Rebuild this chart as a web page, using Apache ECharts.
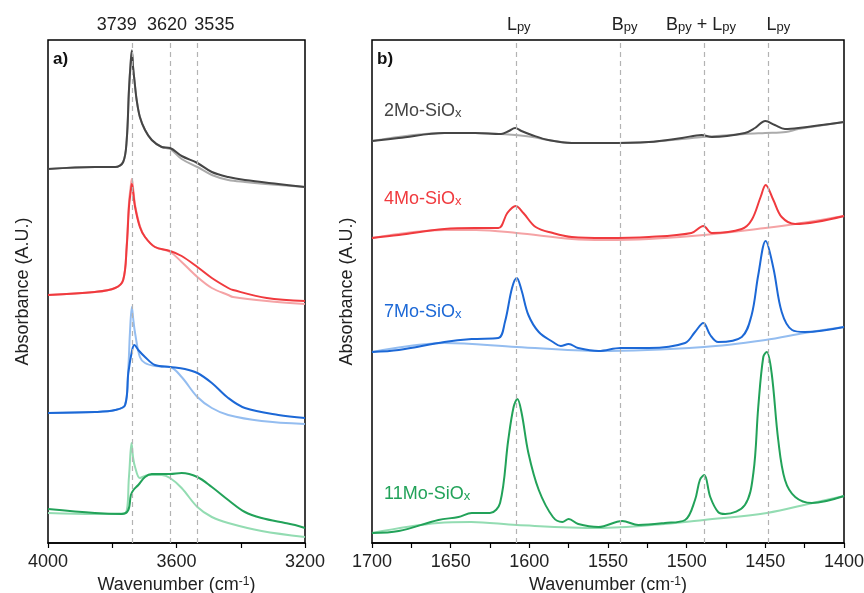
<!DOCTYPE html>
<html>
<head>
<meta charset="utf-8">
<script src="https://cdn.jsdelivr.net/npm/echarts@6/dist/echarts.min.js"></script>
<style>
  html, body { margin: 0; padding: 0; background: #fff; }
  #chart { width: 864px; height: 593px; }
</style>
</head>
<body>
<div id="chart"></div>
<script>
// a) OH region, [wavenumber, absorbance]
const oh2Mo = [[4000,3.74],[3854,3.76],[3791,3.76],[3766,3.81],[3755,4.03],[3748,4.53],[3742,4.83],[3739,4.92],[3735,4.75],[3731,4.63],[3724,4.43],[3714,4.26],[3698,4.13],[3677,4.03],[3646,3.96],[3620,3.95],[3584,3.87],[3535,3.80],[3490,3.71],[3439,3.66],[3387,3.63],[3283,3.59],[3200,3.56]]
const oh2MoRef = [[4000,3.74],[3854,3.76],[3791,3.76],[3766,3.81],[3755,4.03],[3748,4.53],[3742,4.84],[3739,4.93],[3735,4.76],[3731,4.63],[3724,4.43],[3714,4.26],[3698,4.13],[3677,4.03],[3646,3.96],[3620,3.94],[3584,3.84],[3535,3.76],[3490,3.68],[3439,3.63],[3387,3.61],[3283,3.58],[3200,3.56]]
const oh4Mo = [[4000,2.48],[3854,2.51],[3791,2.55],[3766,2.63],[3755,2.96],[3748,3.36],[3742,3.53],[3739,3.59],[3735,3.51],[3729,3.36],[3714,3.16],[3698,3.06],[3667,2.96],[3620,2.92],[3584,2.87],[3535,2.76],[3490,2.65],[3439,2.55],[3424,2.53],[3319,2.45],[3200,2.42]]
const oh4MoRef = [[4000,2.48],[3854,2.51],[3791,2.55],[3766,2.63],[3755,2.98],[3748,3.40],[3742,3.58],[3739,3.64],[3735,3.55],[3729,3.38],[3714,3.17],[3698,3.06],[3667,2.96],[3620,2.91],[3584,2.81],[3535,2.66],[3490,2.55],[3439,2.48],[3424,2.46],[3319,2.42],[3200,2.39]]
const oh7Mo = [[4000,1.30],[3854,1.31],[3791,1.33],[3760,1.38],[3750,1.70],[3738,1.93],[3731,1.98],[3719,1.93],[3698,1.86],[3667,1.78],[3620,1.76],[3574,1.74],[3535,1.70],[3490,1.60],[3439,1.45],[3387,1.35],[3283,1.28],[3200,1.25]]
const oh7MoRef = [[4000,1.30],[3854,1.31],[3791,1.33],[3760,1.38],[3750,1.75],[3745,2.10],[3739,2.36],[3735,2.25],[3729,2.10],[3714,1.86],[3698,1.80],[3667,1.77],[3620,1.76],[3584,1.66],[3535,1.46],[3490,1.35],[3439,1.28],[3335,1.22],[3200,1.19]]
const oh11Mo = [[4000,0.34],[3854,0.30],[3770,0.29],[3750,0.33],[3742,0.48],[3734,0.53],[3719,0.58],[3698,0.66],[3677,0.69],[3620,0.69],[3584,0.70],[3535,0.66],[3490,0.56],[3439,0.43],[3387,0.31],[3335,0.25],[3262,0.20],[3231,0.18],[3200,0.15]]
const oh11MoRef = [[4000,0.30],[3854,0.29],[3760,0.30],[3748,0.66],[3740,1.00],[3735,0.85],[3729,0.76],[3714,0.65],[3688,0.68],[3646,0.68],[3620,0.65],[3584,0.55],[3535,0.36],[3490,0.26],[3439,0.20],[3335,0.12],[3200,0.06]]

// b) pyridine region
const py2Mo = [[1700,4.02],[1683,4.05],[1654,4.10],[1634.5,4.10],[1618,4.09],[1613,4.12],[1609,4.15],[1605,4.12],[1598.5,4.08],[1588,4.03],[1573,4.00],[1552,4.00],[1524,4.01],[1503,4.05],[1490.5,4.08],[1484,4.06],[1463,4.10],[1456.6,4.15],[1450,4.22],[1444,4.18],[1437.5,4.14],[1429,4.15],[1400,4.21]]
const py2MoRef = [[1700,4.02],[1654,4.10],[1634,4.10],[1618,4.09],[1609,4.08],[1598,4.06],[1588,4.03],[1573,4.00],[1552,4.00],[1524,4.01],[1503,4.04],[1490,4.06],[1463,4.09],[1450,4.10],[1437,4.11],[1429,4.14],[1400,4.21]]
const py4Mo = [[1700,3.05],[1683,3.08],[1654,3.14],[1634.5,3.15],[1619.7,3.15],[1614,3.30],[1608.7,3.37],[1603.8,3.30],[1596,3.16],[1585,3.10],[1573,3.06],[1552,3.05],[1524,3.06],[1497,3.10],[1489.4,3.17],[1484,3.10],[1465,3.14],[1458.7,3.23],[1453,3.46],[1449.8,3.58],[1444.9,3.43],[1439.6,3.26],[1431,3.19],[1400,3.27]]
const py4MoRef = [[1700,3.05],[1654,3.13],[1634,3.13],[1608,3.10],[1573,3.04],[1552,3.03],[1524,3.04],[1489,3.08],[1450,3.15],[1431,3.19],[1400,3.27]]
const py7Mo = [[1700,1.91],[1683,1.93],[1654,2.01],[1636.6,2.04],[1619.7,2.05],[1615.5,2.21],[1611,2.55],[1608,2.65],[1605,2.53],[1600.6,2.28],[1594,2.11],[1585,2.01],[1580,1.97],[1575,1.99],[1569,1.95],[1556,1.92],[1542,1.95],[1524,1.95],[1501,2.00],[1494.7,2.11],[1489.4,2.20],[1485,2.08],[1480,2.01],[1465,2.06],[1458.7,2.28],[1454.5,2.68],[1449.8,3.02],[1444.9,2.75],[1439.6,2.31],[1433,2.13],[1424.8,2.11],[1400,2.16]]
const py7MoRef = [[1700,1.91],[1654,2.00],[1608,1.96],[1556,1.92],[1489,1.96],[1450,2.03],[1425,2.10],[1400,2.16]]
const py11Mo = [[1700,0.10],[1683,0.12],[1657.8,0.23],[1645,0.26],[1636.6,0.30],[1625,0.30],[1618.6,0.40],[1613.4,1.03],[1610,1.36],[1607.6,1.44],[1604.9,1.30],[1600.6,0.90],[1594,0.53],[1585,0.26],[1579,0.21],[1575,0.24],[1568.9,0.19],[1556,0.16],[1541,0.22],[1530.7,0.18],[1513.8,0.20],[1501,0.23],[1494.7,0.43],[1491.6,0.63],[1488.8,0.68],[1485,0.46],[1480,0.31],[1475.6,0.29],[1463,0.38],[1457.6,0.70],[1454.5,1.36],[1451.3,1.86],[1449.1,1.91],[1446,1.70],[1441.8,1.03],[1437.5,0.63],[1431,0.46],[1420.5,0.40],[1400,0.47]]
const py11MoRef = [[1700,0.10],[1658,0.20],[1637,0.21],[1608,0.18],[1556,0.15],[1514,0.19],[1489,0.23],[1449,0.30],[1420,0.40],[1400,0.47]]

const ohBands = [3739, 3620, 3535]
const pyBands = [1608, 1542, 1489, 1448]
const pyBandLabels = ['L{sub|py}', 'B{sub|py}', 'B{sub|py} + L{sub|py}', 'L{sub|py}']
const sampleNames = ['2Mo-SiO{sub|x}', '4Mo-SiO{sub|x}', '7Mo-SiO{sub|x}', '11Mo-SiO{sub|x}']

const colors = ['#454545', '#f03a3e', '#1c68d6', '#22a259']
const lightColors = ['#ababab', '#f5a3a5', '#94bdf0', '#93dcb2']

const FONT = '"Liberation Sans", Arial, sans-serif'
const subRich = {
  sub: { fontSize: 13, fontFamily: FONT, verticalAlign: 'bottom', lineHeight: 2 },
}

const chart = echarts.init(document.getElementById('chart'))

function line(data, color, gridIndex, extra) {
  return Object.assign({
    type: 'line',
    data: data,
    xAxisIndex: gridIndex,
    yAxisIndex: gridIndex,
    showSymbol: false,
    smooth: 0.35,
    lineStyle: { color: color, width: 2 },
    silent: true,
  }, extra || {})
}

// labels above the dashed lines are nudged sideways a little, as in the figure
function shiftPad(s) {
  return s >= 0 ? [0, 0, 0, 2 * s] : [0, -2 * s, 0, 0]
}

function bandLines(values, labels, shifts) {
  return {
    symbol: 'none',
    silent: true,
    lineStyle: { type: [5, 4], color: '#b3b3b3', width: 1.2 },
    label: {
      position: 'end',
      distance: 6,
      fontSize: 18,
      fontFamily: FONT,
      color: '#222',
      rich: subRich,
    },
    data: values.map((v, i) => ({ xAxis: v, label: { formatter: labels[i], padding: shiftPad(shifts[i]) } })),
  }
}

function xAxis(gridIndex, min, max, interval, every) {
  return {
    type: 'value',
    gridIndex: gridIndex,
    min: min,
    max: max,
    interval: interval,
    inverse: true,
    name: 'Wavenumber (cm{sup|-1})',
    nameLocation: 'middle',
    nameGap: 32,
    nameTextStyle: {
      fontSize: 18,
      fontFamily: FONT,
      color: '#222',
      rich: { sup: { fontSize: 12, fontFamily: FONT, verticalAlign: 'top', lineHeight: 4 } },
    },
    axisLine: { lineStyle: { color: '#000', width: 1.5 } },
    axisTick: { inside: false, length: 5, lineStyle: { color: '#000', width: 1.2 } },
    axisLabel: {
      fontSize: 18,
      fontFamily: FONT,
      color: '#222',
      margin: 10,
      formatter: (v) => (v % every === 0 ? String(v) : ''),
    },
    splitLine: { show: false },
  }
}

function yAxis(gridIndex) {
  return {
    type: 'value',
    gridIndex: gridIndex,
    min: 0,
    max: 5.03,
    name: 'Absorbance (A.U.)',
    nameLocation: 'middle',
    nameGap: 16,
    nameTextStyle: { fontSize: 18, fontFamily: FONT, color: '#222' },
    axisLine: { show: false },
    axisTick: { show: false },
    axisLabel: { show: false },
    splitLine: { show: false },
  }
}

const ohDark = [oh2Mo, oh4Mo, oh7Mo, oh11Mo]
const ohLight = [oh2MoRef, oh4MoRef, oh7MoRef, oh11MoRef]
const pyDark = [py2Mo, py4Mo, py7Mo, py11Mo]
const pyLight = [py2MoRef, py4MoRef, py7MoRef, py11MoRef]

const series = []
ohLight.forEach((d, i) => series.push(line(d, lightColors[i], 0, i === 0 ? { markLine: bandLines(ohBands, ohBands.map(String), [-15, -3, 17]) } : null)))
ohDark.forEach((d, i) => series.push(line(d, colors[i], 0)))
pyLight.forEach((d, i) => series.push(line(d, lightColors[i], 1, i === 0 ? { markLine: bandLines(pyBands, pyBandLabels, [2, 4, -3, 10]) } : null)))
pyDark.forEach((d, i) => series.push(line(d, colors[i], 1)))

// sample names inside panel b
const nameY = [113, 201, 314, 496]
const nameGraphics = sampleNames.map((t, i) => ({
  type: 'text',
  left: 384,
  top: nameY[i] - 11,
  silent: true,
  style: {
    text: t,
    fontSize: 18,
    fontFamily: FONT,
    fill: colors[i],
    rich: { sub: { fontSize: 13, fontFamily: FONT, fill: colors[i], verticalAlign: 'bottom', lineHeight: 2 } },
  },
}))

const gridBase = { top: 40, height: 503, show: true, borderColor: '#000', borderWidth: 1.5, backgroundColor: 'transparent', containLabel: false, outerBoundsMode: 'none' }

chart.setOption({
  backgroundColor: '#fff',
  animation: false,
  grid: [
    Object.assign({ left: 48, width: 257 }, gridBase),
    Object.assign({ left: 372, width: 472 }, gridBase),
  ],
  xAxis: [xAxis(0, 3200, 4000, 200, 400), xAxis(1, 1400, 1700, 25, 50)],
  yAxis: [yAxis(0), yAxis(1)],
  series: series,
  graphic: [
    { type: 'text', left: 53, top: 51, silent: true, style: { text: 'a)', fontSize: 17, fontWeight: 'bold', fontFamily: FONT, fill: '#111' } },
    { type: 'text', left: 377, top: 51, silent: true, style: { text: 'b)', fontSize: 17, fontWeight: 'bold', fontFamily: FONT, fill: '#111' } },
  ].concat(nameGraphics),
})
</script>
</body>
</html>
